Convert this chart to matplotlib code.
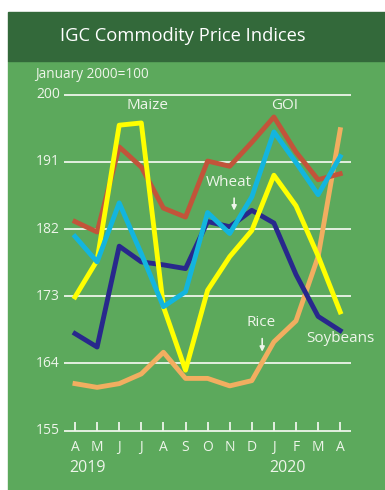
import matplotlib.pyplot as plt
from matplotlib.patches import Rectangle

plt.rcParams['font.family'] = ['Open Sans', 'DejaVu Sans']

months = ['A', 'M', 'J', 'J', 'A', 'S', 'O', 'N', 'D', 'J', 'F', 'M', 'A']
years = ['2019', '2020']
yticks = [155, 164, 173, 182, 191, 200]

maize = [172.9, 177.8, 195.9, 196.2, 171.6, 163.1, 173.8, 178.3, 181.8, 189.2, 185.1, 178.4, 170.9]
goi = [183.0, 181.6, 193.0, 190.3, 184.8, 183.6, 191.1, 190.4, 193.6, 197.0, 192.3, 188.6, 189.4]
wheat = [181.0, 177.6, 185.5, 178.7, 171.6, 173.6, 184.2, 181.4, 186.3, 195.0, 190.9, 186.6, 191.7]
soybeans = [168.0, 166.2, 179.7, 177.6, 177.2, 176.7, 183.0, 182.3, 184.5, 182.8, 175.9, 170.3, 168.4]
rice = [161.3, 160.8, 161.3, 162.6, 165.5, 162.0, 162.0, 161.0, 161.7, 166.9, 169.7, 178.3, 195.3]

dark_green = '#33693a'
light_green = '#5ca95c'
txt = '#eef5ea'

fig = plt.figure(figsize=(3.85, 4.9), dpi=100)
ax = fig.add_axes([0, 0, 1, 1])
ax.set_xlim(-3.394, 14.027)
ax.set_ylim(147.06, 212.66)
ax.axis('off')

# background panels
ax.add_patch(Rectangle((8 / 385, 0), 1, 1 - 61 / 490, transform=ax.transAxes,
                       color=light_green, zorder=0))
ax.add_patch(Rectangle((8 / 385, 1 - 61 / 490), 1, 49 / 490, transform=ax.transAxes,
                       color=dark_green, zorder=0))
ax.text(60 / 385, 1 - 36 / 490, 'IGC Commodity Price Indices', transform=ax.transAxes,
        color='white', fontsize=13.2, va='center', ha='left')
ax.text(35 / 385, 1 - 74 / 490, 'January 2000=100', transform=ax.transAxes,
        color=txt, fontsize=9.8, va='center', ha='left')

# grid
for v in yticks:
    ax.hlines(v, -0.5, 12.5, color=txt, lw=1.3, zorder=1)
    ax.text(-0.68, v, str(v), color=txt, fontsize=10, ha='right', va='center')

x = list(range(len(months)))
ax.vlines(x, 155, 156.1, color=txt, lw=1.3, zorder=1)
for i, m in enumerate(months):
    ax.text(i, 152.8, m, color=txt, fontsize=10, ha='center', va='center')
ax.text(0.55, 150.0, years[0], color=txt, fontsize=11.5, ha='center', va='center')
ax.text(9.6, 150.0, years[1], color=txt, fontsize=11.5, ha='center', va='center')

lw = 3.5
ax.plot(x, rice, color='#f2ae60', lw=lw, zorder=3)
ax.plot(x, soybeans, color='#28288c', lw=lw, zorder=4)
ax.plot(x, maize, color='#ffff00', lw=lw, zorder=5)
ax.plot(x, goi, color='#c2543a', lw=lw, zorder=4)
ax.plot(x, wheat, color='#13b5de', lw=lw, zorder=6)

ax.text(3.3, 198.6, 'Maize', color=txt, fontsize=11, ha='center', va='center')
ax.text(9.5, 198.6, 'GOI', color=txt, fontsize=11, ha='center', va='center')
ax.text(6.98, 188.2, 'Wheat', color=txt, fontsize=11, ha='center', va='center', zorder=7)
ax.annotate('', xy=(7.2, 184.1), xytext=(7.2, 186.5),
            arrowprops=dict(arrowstyle='-|>', color=txt, lw=1.2, mutation_scale=7), zorder=7)
ax.text(8.4, 169.5, 'Rice', color=txt, fontsize=11, ha='center', va='center', zorder=7)
ax.annotate('', xy=(8.47, 165.2), xytext=(8.47, 167.7),
            arrowprops=dict(arrowstyle='-|>', color=txt, lw=1.2, mutation_scale=7), zorder=7)
ax.text(12.0, 167.3, 'Soybeans', color=txt, fontsize=11, ha='center', va='center', zorder=7)

fig.savefig('out.png', dpi=100)
